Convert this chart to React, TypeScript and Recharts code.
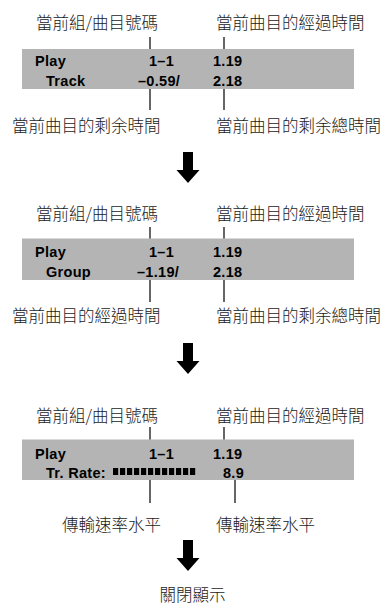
import React from "react";
import {
  ComposedChart,
  XAxis,
  YAxis,
  Scatter,
  ReferenceArea,
  ReferenceLine,
} from "recharts";

// what the display shows, panel by panel
const topLabels = ["當前組/曲目號碼", "當前曲目的經過時間"];
const statusRow = ["Play", "1–1", "1.19"];
const secondRows = [
  ["Track", "–0.59/", "2.18"],
  ["Group", "–1.19/", "2.18"],
  ["Tr. Rate:", "", "8.9"],
];
const bottomLabels = [
  ["當前曲目的剩余時間", "當前曲目的剩余總時間"],
  ["當前曲目的經過時間", "當前曲目的剩余總時間"],
  ["傳輸速率水平", "傳輸速率水平"],
];
// transfer rate level meter segments (1 = lit)
const rateLevel = [1, 1, 1, 1, 1, 1, 1, 1, 1, 1, 1, 1];
const offLabel = "關閉顯示";

// layout
const W = 383;
const H = 604;
const BOX_X = [22, 354];
const TOP_X = [36, 216];
const TOP_LINE_X = [150, 224];
const ROW1_X = [35, 149, 213];
const panels = [
  { labelY: 21.5, lineTop: 37, boxTop: 49, boxBottom: 89, row1: 66, row2: 86, lineEnd: 110, bottomY: 125, bottomX: [12, 216], bottomLineX: [150, 224], row2X: [46, 138, 213] },
  { labelY: 213, lineTop: 227, boxTop: 238.5, boxBottom: 280, row1: 257, row2: 277, lineEnd: 302, bottomY: 315, bottomX: [12, 216], bottomLineX: [150, 224], row2X: [46, 137, 213] },
  { labelY: 415, lineTop: 427, boxTop: 439.5, boxBottom: 480, row1: 458.5, row2: 478, lineEnd: 503, bottomY: 524, bottomX: [62, 216], bottomLineX: [150, 235], row2X: [46, 0, 223] },
];
const arrowTops = [152, 343, 540];
const METER = { x: 113, y: 468, pitch: 7, w: 5.2, h: 7 };

const CJK = "'Noto Sans CJK TC', 'Noto Sans CJK JP', sans-serif";
const LCD = "'Liberation Sans', Arial, sans-serif";

type Mark = { x: number; y: number; text: string; kind: "label" | "lcd"; anchor?: string };

const marks: Mark[] = [];
panels.forEach((p, i) => {
  topLabels.forEach((t, j) => marks.push({ x: TOP_X[j], y: p.labelY, text: t, kind: "label" }));
  statusRow.forEach((t, j) => marks.push({ x: ROW1_X[j], y: p.row1, text: t, kind: "lcd" }));
  secondRows[i].forEach((t, j) => {
    if (t) marks.push({ x: p.row2X[j], y: p.row2, text: t, kind: "lcd" });
  });
  bottomLabels[i].forEach((t, j) => marks.push({ x: p.bottomX[j], y: p.bottomY, text: t, kind: "label" }));
});
marks.push({ x: 192.5, y: 593.5, text: offLabel, kind: "label", anchor: "middle" });

const arrowData = arrowTops.map((y) => ({ x: 188, y }));
const meterData = rateLevel
  .map((v, i) => ({ v, x: METER.x + i * METER.pitch + METER.w / 2, y: METER.y + METER.h / 2 }))
  .filter((d) => d.v > 0);

const TextMark = (props: any) => {
  const d: Mark = props.payload;
  if (d.kind === "label") {
    return (
      <text
        x={props.cx}
        y={props.cy}
        textAnchor={d.anchor || "start"}
        dominantBaseline="central"
        fontFamily={CJK}
        fontSize={16.5}
        fontWeight={300}
        fill="#1a1a1a"
      >
        {d.text}
      </text>
    );
  }
  return (
    <text
      x={props.cx}
      y={props.cy}
      fontFamily={LCD}
      fontSize={14.5}
      fontWeight={700}
      letterSpacing={0.3}
      fill="#000"
    >
      {d.text}
    </text>
  );
};

const ArrowMark = (props: any) => {
  const { cx, cy } = props;
  const path = `M${cx - 5},${cy} H${cx + 5} V${cy + 18} H${cx + 11.5} L${cx},${cy + 31} L${cx - 11.5},${cy + 18} H${cx - 5} Z`;
  return <path d={path} fill="#000" />;
};

const SegmentMark = (props: any) => (
  <rect x={props.cx - METER.w / 2} y={props.cy - METER.h / 2} width={METER.w} height={METER.h} fill="#000" />
);

export default function App() {
  return (
    <div style={{ position: "absolute", left: 0, top: 0, width: W, height: H, background: "#fff" }}>
      <ComposedChart width={W} height={H} margin={{ top: 0, right: 0, bottom: 0, left: 0 }}>
        <XAxis type="number" dataKey="x" domain={[0, W]} allowDataOverflow hide />
        <YAxis type="number" dataKey="y" domain={[0, H]} allowDataOverflow reversed hide />
        {panels.map((p, i) => (
          <ReferenceArea
            key={`box${i}`}
            x1={BOX_X[0]}
            x2={BOX_X[1]}
            y1={p.boxTop}
            y2={p.boxBottom}
            fill="#b4b4b4"
            fillOpacity={1}
            stroke="none"
          />
        ))}
        {panels.map((p, i) =>
          TOP_LINE_X.map((x, j) => (
            <ReferenceLine
              key={`tl${i}-${j}`}
              segment={[{ x, y: p.lineTop }, { x, y: p.boxTop }]}
              stroke="#000"
              strokeWidth={1.2}
            />
          ))
        )}
        {panels.map((p, i) =>
          p.bottomLineX.map((x, j) => (
            <ReferenceLine
              key={`bl${i}-${j}`}
              segment={[{ x, y: p.boxBottom }, { x, y: p.lineEnd }]}
              stroke="#000"
              strokeWidth={1.2}
            />
          ))
        )}
        <Scatter data={meterData} shape={SegmentMark} isAnimationActive={false} />
        <Scatter data={arrowData} shape={ArrowMark} isAnimationActive={false} />
        <Scatter data={marks} shape={TextMark} isAnimationActive={false} />
      </ComposedChart>
    </div>
  );
}
